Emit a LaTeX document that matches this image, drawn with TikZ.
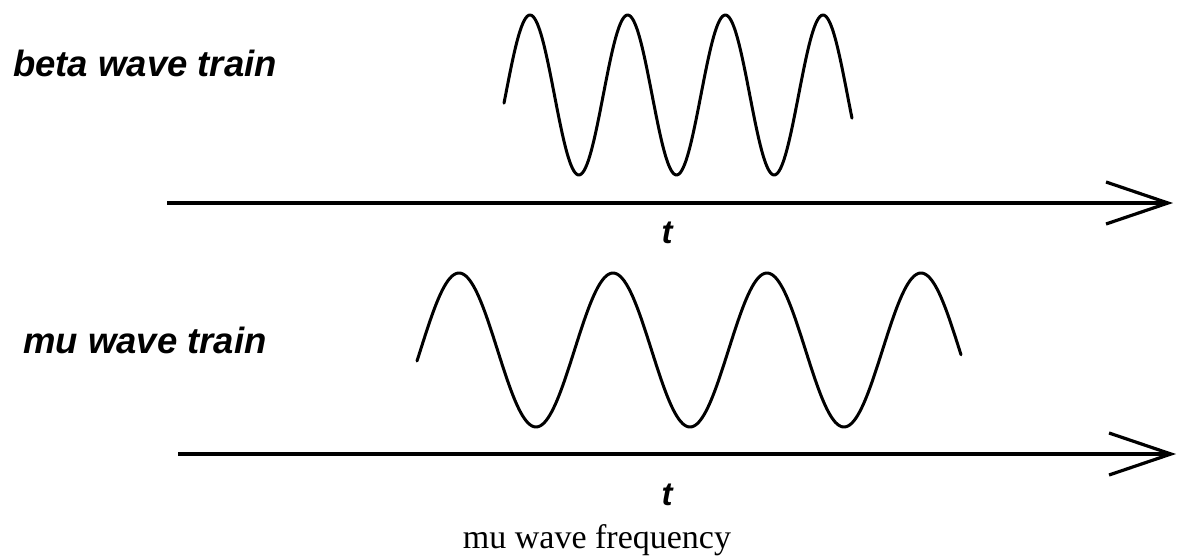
\documentclass[tikz,border=0pt]{standalone}
\usepackage{fontspec}
\setmainfont{Liberation Serif}
\newfontfamily\labelfont{Liberation Sans}
\usetikzlibrary{arrows.meta}
\tikzset{
  wave/.style={line width=3pt, line join=round, line cap=round},
  axisline/.style={line width=3.2pt, -{Straight Barb[length=62pt, width=42pt, line width=3.2pt]}},
  lbl/.style={inner sep=0pt, font=\labelfont\bfseries\itshape\fontsize{36.5}{40}\selectfont},
  tlbl/.style={inner sep=0pt, font=\labelfont\bfseries\itshape\fontsize{33}{36}\selectfont},
  captext/.style={inner sep=0pt, font=\fontsize{34}{38}\selectfont}
}
\begin{document}
\begin{tikzpicture}[x=1pt, y=-1pt]
\useasboundingbox (0,0) rectangle (1177,555);
% labels
\node[lbl, anchor=base west] (beta) at (13,76) {beta wave train};
\node[lbl, anchor=base west] (mu) at (23,353) {mu wave train};
\node[tlbl, anchor=base] (t1) at (667,243) {t};
\node[tlbl, anchor=base] (t2) at (667,505) {t};
\node[captext, anchor=base] (caption) at (597,548) {mu wave frequency};
% axes
\coordinate (a1s) at (167,203);
\coordinate (a1e) at (1173,203);
\coordinate (a2s) at (178,454);
\coordinate (a2e) at (1176,454);
\draw[axisline] (a1s) -- (a1e);
\draw[axisline] (a2s) -- (a2e);
% waves
\draw[wave, domain=504:852, samples=240, smooth, variable=\x]
  plot (\x, {95-80*cos((\x-530)/97.67*360)});
\draw[wave, domain=417:961, samples=300, smooth, variable=\x]
  plot (\x, {350-77*cos((\x-459)/154*360)});
\end{tikzpicture}
\end{document}
